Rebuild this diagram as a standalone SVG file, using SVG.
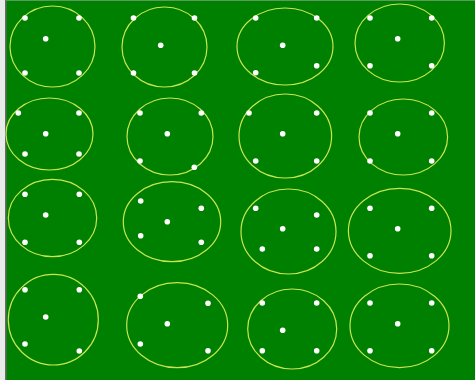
<svg xmlns="http://www.w3.org/2000/svg" width="475" height="380" viewBox="0 0 475 380">
<style>
.e{fill:none;stroke:#c8e650;stroke-width:1.2}
.d{fill:#ffffff}
</style>
<rect x="0" y="0" width="475" height="380" fill="#008000"/>
<rect x="0" y="0" width="5" height="380" fill="#e8ece8"/>
<rect x="5" y="0" width="1.5" height="380" fill="#6a6a6a"/>
<rect x="6" y="0" width="469" height="1" fill="#5a9a5a"/>
<g id="n11"><ellipse class="e" cx="52.5" cy="46.5" rx="42.5" ry="40.5"/><circle class="d" cx="25" cy="18" r="2.8"/><circle class="d" cx="79" cy="18" r="2.8"/><circle class="d" cx="25" cy="73" r="2.8"/><circle class="d" cx="79" cy="73" r="2.8"/><circle class="d" cx="45.7" cy="38.7" r="2.8"/></g>
<g id="n12"><ellipse class="e" cx="164.5" cy="47" rx="42.5" ry="40"/><circle class="d" cx="133.5" cy="18" r="2.8"/><circle class="d" cx="194.5" cy="18" r="2.8"/><circle class="d" cx="133.5" cy="73" r="2.8"/><circle class="d" cx="194.5" cy="73" r="2.8"/><circle class="d" cx="160.7" cy="45.3" r="2.8"/></g>
<g id="n13"><ellipse class="e" cx="285" cy="46.5" rx="48" ry="38.5"/><circle class="d" cx="255.7" cy="18" r="2.8"/><circle class="d" cx="316.7" cy="18" r="2.8"/><circle class="d" cx="255.7" cy="72.7" r="2.8"/><circle class="d" cx="316.7" cy="65.7" r="2.8"/><circle class="d" cx="282.7" cy="45.3" r="2.8"/></g>
<g id="n14"><ellipse class="e" cx="399.7" cy="43" rx="44.7" ry="39"/><circle class="d" cx="370" cy="18" r="2.8"/><circle class="d" cx="431.7" cy="18" r="2.8"/><circle class="d" cx="370" cy="65.7" r="2.8"/><circle class="d" cx="431.7" cy="65.7" r="2.8"/><circle class="d" cx="397.7" cy="38.7" r="2.8"/></g>
<g id="n21"><ellipse class="e" cx="49.5" cy="134" rx="43.5" ry="36"/><circle class="d" cx="18.3" cy="113" r="2.8"/><circle class="d" cx="79" cy="113" r="2.8"/><circle class="d" cx="25" cy="154" r="2.8"/><circle class="d" cx="79" cy="154" r="2.8"/><circle class="d" cx="45.7" cy="133.7" r="2.8"/></g>
<g id="n22"><ellipse class="e" cx="170" cy="136.5" rx="43" ry="38.5"/><circle class="d" cx="140" cy="113" r="2.8"/><circle class="d" cx="201.3" cy="113" r="2.8"/><circle class="d" cx="140" cy="161" r="2.8"/><circle class="d" cx="194.3" cy="167.3" r="2.8"/><circle class="d" cx="167.3" cy="133.7" r="2.8"/></g>
<g id="n23"><ellipse class="e" cx="285.3" cy="136" rx="46.3" ry="42"/><circle class="d" cx="249" cy="113" r="2.8"/><circle class="d" cx="316.7" cy="113" r="2.8"/><circle class="d" cx="255.7" cy="161" r="2.8"/><circle class="d" cx="316.7" cy="161" r="2.8"/><circle class="d" cx="282.7" cy="133.7" r="2.8"/></g>
<g id="n24"><ellipse class="e" cx="403.3" cy="137" rx="44.3" ry="38"/><circle class="d" cx="370" cy="113" r="2.8"/><circle class="d" cx="431.7" cy="113" r="2.8"/><circle class="d" cx="370" cy="161" r="2.8"/><circle class="d" cx="431.7" cy="161" r="2.8"/><circle class="d" cx="397.7" cy="133.7" r="2.8"/></g>
<g id="n31"><ellipse class="e" cx="52.5" cy="218" rx="44.2" ry="38.7"/><circle class="d" cx="25" cy="194.3" r="2.8"/><circle class="d" cx="79.3" cy="194.3" r="2.8"/><circle class="d" cx="25" cy="242.3" r="2.8"/><circle class="d" cx="79.3" cy="242.3" r="2.8"/><circle class="d" cx="45.7" cy="215" r="2.8"/></g>
<g id="n32"><ellipse class="e" cx="172" cy="221.7" rx="48.7" ry="40"/><circle class="d" cx="140.7" cy="201" r="2.8"/><circle class="d" cx="201.3" cy="208.3" r="2.8"/><circle class="d" cx="140.7" cy="235.7" r="2.8"/><circle class="d" cx="201.3" cy="242.3" r="2.8"/><circle class="d" cx="167.3" cy="221.7" r="2.8"/></g>
<g id="n33"><ellipse class="e" cx="288.5" cy="231.5" rx="47.5" ry="42.5"/><circle class="d" cx="255.7" cy="208.3" r="2.8"/><circle class="d" cx="316.7" cy="215" r="2.8"/><circle class="d" cx="262.3" cy="249" r="2.8"/><circle class="d" cx="316.7" cy="249" r="2.8"/><circle class="d" cx="282.7" cy="228.7" r="2.8"/></g>
<g id="n34"><ellipse class="e" cx="399.7" cy="230.8" rx="51.3" ry="42.5"/><circle class="d" cx="370" cy="208.3" r="2.8"/><circle class="d" cx="431.7" cy="208.3" r="2.8"/><circle class="d" cx="370" cy="255.7" r="2.8"/><circle class="d" cx="431.7" cy="255.7" r="2.8"/><circle class="d" cx="397.7" cy="228.7" r="2.8"/></g>
<g id="n41"><ellipse class="e" cx="53.3" cy="319.7" rx="45" ry="45.3"/><circle class="d" cx="25" cy="289.7" r="2.8"/><circle class="d" cx="79.3" cy="289.7" r="2.8"/><circle class="d" cx="25" cy="344" r="2.8"/><circle class="d" cx="79.3" cy="351" r="2.8"/><circle class="d" cx="45.7" cy="317" r="2.8"/></g>
<g id="n42"><ellipse class="e" cx="177.2" cy="325.2" rx="50.5" ry="42.5"/><circle class="d" cx="140.3" cy="296.3" r="2.8"/><circle class="d" cx="208" cy="303.3" r="2.8"/><circle class="d" cx="140.3" cy="344" r="2.8"/><circle class="d" cx="208" cy="350.7" r="2.8"/><circle class="d" cx="167.3" cy="323.7" r="2.8"/></g>
<g id="n43"><ellipse class="e" cx="292.2" cy="329" rx="44.5" ry="40"/><circle class="d" cx="262.3" cy="303" r="2.8"/><circle class="d" cx="316.7" cy="303" r="2.8"/><circle class="d" cx="262.3" cy="350.7" r="2.8"/><circle class="d" cx="316.7" cy="350.7" r="2.8"/><circle class="d" cx="282.7" cy="330.3" r="2.8"/></g>
<g id="n44"><ellipse class="e" cx="399.5" cy="325.8" rx="49.5" ry="41.8"/><circle class="d" cx="370" cy="303" r="2.8"/><circle class="d" cx="431.7" cy="303" r="2.8"/><circle class="d" cx="370" cy="350.7" r="2.8"/><circle class="d" cx="431.7" cy="350.7" r="2.8"/><circle class="d" cx="397.7" cy="323.7" r="2.8"/></g>
<g id="connectors"></g>
</svg>
